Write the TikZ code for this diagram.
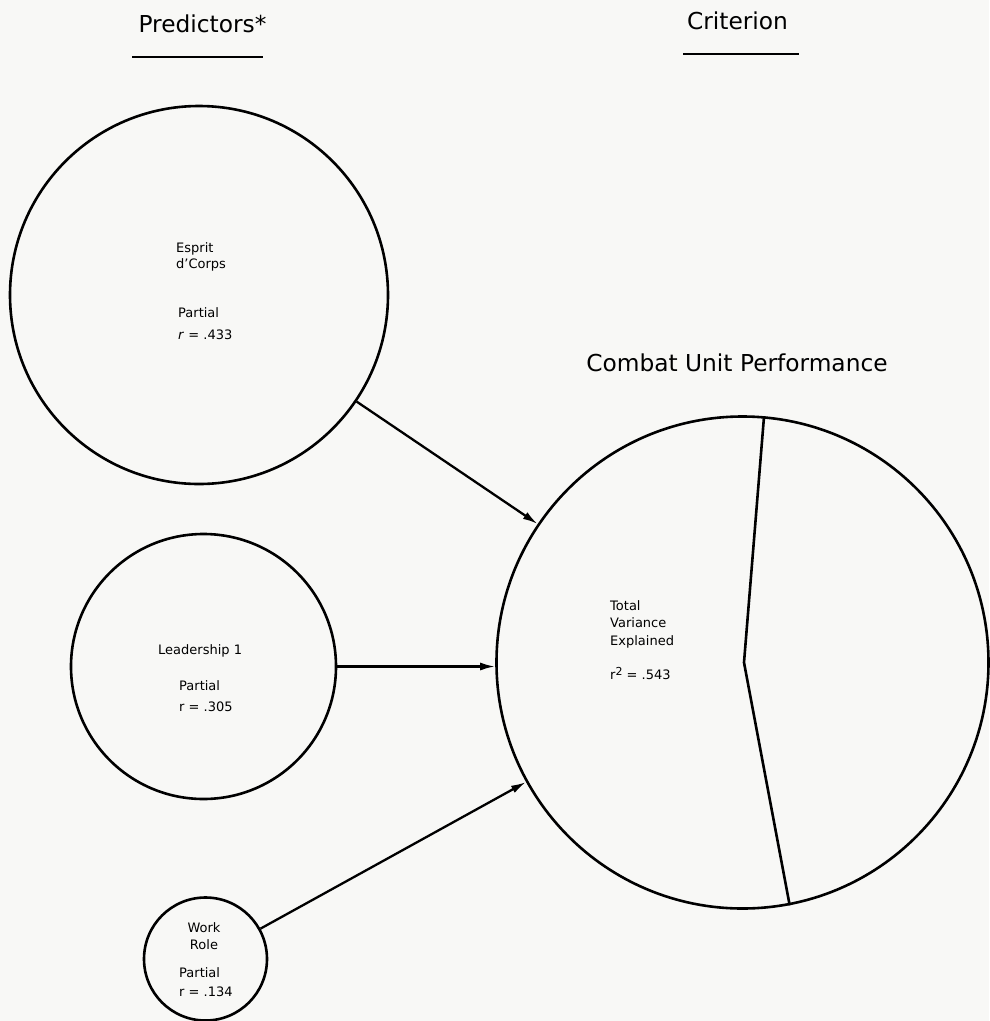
\documentclass[tikz,border=0pt]{standalone}
\usepackage{fontspec}
\setmainfont{DejaVu Sans}
\usetikzlibrary{arrows.meta}
\definecolor{paper}{RGB}{248,248,246}
\begin{document}
\begin{tikzpicture}[x=1pt,y=-1pt,
  ring/.style={circle,draw,line width=2.6pt,inner sep=0pt},
  arr/.style={line width=2.3pt,-{Latex[length=15pt,width=8pt]}},
  small/.style={font=\fontsize{13}{15}\selectfont,inner sep=0pt},
  big/.style={font=\fontsize{23.3}{28}\selectfont,inner sep=0pt},
  rule/.style={line width=1.6pt}]
\fill[paper] (0,0) rectangle (989,1021);
\useasboundingbox (0,0) rectangle (989,1021);

% titles
\node[big,anchor=base] (pred) at (202.5,32) {Predictors*};
\node[big,anchor=base] (crit) at (737.5,29) {Criterion};
\node[big,anchor=base] (cuptitle) at (737,371) {Combat Unit Performance};
\draw[rule] (132,57) -- (263,57);
\draw[rule] (683,54) -- (799,54);

% circles
\node[ring,minimum size=378pt] (esprit) at (199,295) {};
\node[ring,minimum size=265pt] (lead) at (203.5,666.5) {};
\node[ring,minimum size=123pt] (work) at (205.5,959) {};
\node[ring,minimum size=492pt] (cup) at (742.5,662.5) {};

% texts in Esprit
\node[small,anchor=base west] (e1) at (176,252) {Esprit};
\node[small,anchor=base west] (e2) at (176,268) {d'Corps};
\node[small,anchor=base west] (e3) at (178,317) {Partial};
\node[small,anchor=base west] (e4) at (178,339) {\textit{r} = .433};

% texts in Leadership
\node[small,anchor=base west] (l1) at (158,654) {Leadership 1};
\node[small,anchor=base west] (l2) at (179,690) {Partial};
\node[small,anchor=base west] (l3) at (179,711) {r = .305};

% texts in Work Role
\node[small,anchor=base] (w1) at (204,932) {Work};
\node[small,anchor=base] (w2) at (204,949) {Role};
\node[small,anchor=base west] (w3) at (179,977) {Partial};
\node[small,anchor=base west] (w4) at (179,996) {r = .134};

% texts in criterion circle
\node[small,anchor=base west] (c1) at (610,610) {Total};
\node[small,anchor=base west] (c2) at (610,627) {Variance};
\node[small,anchor=base west] (c3) at (610,645) {Explained};
\node[small,anchor=base west] (c4) at (610,679) {r\raisebox{0.55ex}{\fontsize{11}{11}\selectfont 2} = .543};

% divider
\draw[line width=2.6pt,line join=round] (cup.85) -- ([xshift=1.5pt]cup.center) -- (cup.-79);

% arrows
\draw[arr] (esprit) -- (cup);
\draw[arr] (lead.east) -- (lead.east -| cup.west);
\draw[arr] (work) -- (cup);
\end{tikzpicture}
\end{document}
